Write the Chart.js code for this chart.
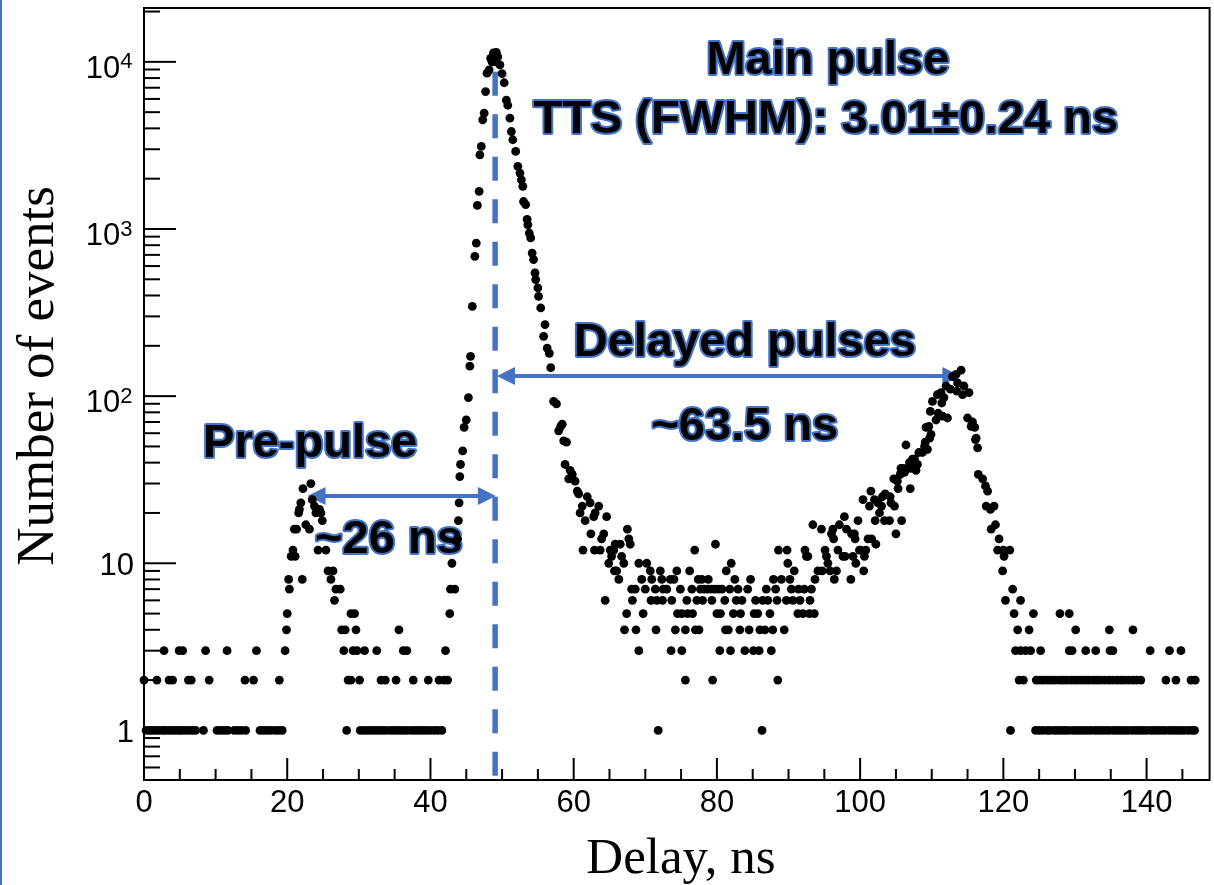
<!DOCTYPE html>
<html>
<head>
<meta charset="utf-8">
<script src="https://cdn.jsdelivr.net/npm/chart.js@4.4.1/dist/chart.umd.min.js"></script>
<style>
  html, body { margin: 0; padding: 0; background: #fff; }
  #wrap { width: 1214px; height: 885px; }
</style>
</head>
<body>
<div id="wrap"><canvas id="chart" width="1214" height="885"></canvas></div>
<script>
// delays (ns) of the bins that hold 1, 2 and 3 events
const delaysAt1 = [
  0.3, 0.8, 1.2, 1.7, 2.1, 2.6, 3.0, 3.5, 3.9, 4.4, 4.9, 5.3, 5.8, 6.3, 6.8, 7.2,
  8.3, 10.2, 10.7, 11.2, 11.7, 12.6, 13.1, 13.6, 14.2,
  16.2, 16.7, 17.2, 17.7, 18.3, 18.8, 19.3,
  28.3, 30.2, 30.7, 31.2, 31.7, 32.2, 32.7, 33.2, 33.7, 34.3, 34.8, 35.3, 35.8,
  36.3, 36.8, 37.4, 37.9, 38.4, 38.9, 39.4, 39.9, 40.5, 41.0, 41.6,
  71.8, 86.3,
  121.0, 124.5, 125.0, 125.5, 126.1, 126.5, 127.1, 127.6, 128.1, 128.6, 129.1, 129.7,
  130.2, 130.7, 131.2, 131.7, 132.2, 132.8, 133.3, 133.8, 134.3, 134.8, 135.4, 135.9,
  136.4, 136.9, 137.4, 138.0, 138.5, 139.0, 139.5, 140.0, 140.6, 141.1, 141.6, 142.1,
  142.6, 143.2, 143.7, 144.2, 144.7, 145.2, 145.8, 146.3, 146.7
];
const delaysAt2 = [
  0.0, 1.8, 3.5, 4.0, 6.2, 6.6, 9.1, 14.1, 15.3, 18.9,
  28.5, 28.9, 30.1, 33.1, 33.7, 35.2, 37.6, 39.7, 41.2, 41.9, 42.4,
  75.6, 79.4, 88.5,
  122.2, 122.8, 124.6, 125.1, 125.6, 126.2, 126.7, 127.2, 127.8, 128.3, 128.8, 129.4,
  129.9, 130.4, 131.0, 131.5, 132.0, 132.6, 133.1, 133.6, 134.2, 134.8, 135.3, 135.9,
  136.4, 136.9, 137.5, 138.1, 138.6, 139.2, 142.7, 144.1, 146.2, 146.8
];
const delaysAt3 = [
  2.8, 4.9, 5.4, 8.6, 11.6, 15.7, 19.7,
  27.9, 29.2, 29.75, 30.8, 32.5, 36.2, 36.7, 42.1,
  69.1, 73.6, 75.1, 80.4, 81.9, 83.9, 85.1, 85.9, 87.6,
  121.7, 122.4, 123.1, 123.8, 125.2, 129.2, 129.6, 131.5, 132.9, 134.9, 135.3,
  140.5, 143.2, 144.8
];

// [delay ns, events] for bins with 4 events or more
const prePulse = [
  [19.9, 4], [20.0, 5], [20.2, 8], [20.3, 7], [20.55, 11], [20.8, 12], [21.0, 16], [21.1, 11],
  [21.3, 16], [21.6, 20], [21.7, 21], [21.9, 23], [22.1, 8], [22.2, 28], [22.6, 17], [23.1, 16],
  [23.3, 30], [23.5, 24], [23.8, 22], [24.0, 20], [24.3, 12], [24.5, 21], [24.7, 20], [24.9, 18],
  [25.4, 12], [25.7, 9], [26.1, 8], [26.4, 9], [26.6, 6], [26.8, 7], [27.4, 7], [27.6, 4],
  [28.1, 4], [28.9, 5], [29.4, 5], [29.6, 4], [35.6, 4]
];
const mainPulse = [
  [42.7, 5], [42.8, 7], [43.0, 10], [43.4, 7], [43.8, 14], [43.9, 18], [44.0, 23], [44.1, 33],
  [44.2, 39], [44.5, 47], [44.7, 65], [45.0, 72], [45.3, 98], [45.5, 151], [45.6, 173],
  [45.85, 344], [46.2, 686], [46.4, 824], [46.55, 1383], [46.8, 1678], [46.9, 2780],
  [47.1, 3118], [47.3, 4500], [47.5, 4930], [47.7, 6640], [47.9, 8560], [48.2, 8960],
  [48.4, 10500], [48.6, 10000], [48.8, 11300], [49.0, 10000], [49.2, 11400], [49.4, 10700],
  [49.7, 9600], [50.0, 8500], [50.3, 7500], [50.6, 5900], [50.8, 5500], [51.1, 4600],
  [51.3, 3830], [51.5, 3420], [51.9, 2910], [52.2, 2370], [52.5, 2160], [52.7, 1970],
  [52.9, 1800], [53.0, 1460], [53.3, 1400], [53.5, 1140], [53.6, 1060], [53.8, 946],
  [54.0, 884], [54.2, 718], [54.4, 656], [54.6, 546], [54.7, 498], [55.0, 444], [55.1, 395],
  [55.4, 337], [55.8, 228], [56.0, 268], [56.3, 194], [56.6, 180], [56.8, 148], [57.2, 93],
  [57.6, 90], [57.9, 62], [58.2, 66]
];
const delayedTail = [
  [58.4, 68], [58.6, 54], [58.8, 39], [59.0, 53], [59.3, 32], [59.5, 36], [59.8, 34], [60.2, 31],
  [60.5, 27], [60.7, 26], [60.9, 20], [61.2, 22], [61.3, 12], [61.6, 18], [61.9, 25], [62.3, 23],
  [62.4, 15], [62.8, 19], [62.9, 12], [63.0, 20], [63.5, 22], [63.7, 12], [63.9, 14], [64.2, 15],
  [64.4, 6], [64.6, 19], [64.9, 10], [65.1, 12], [65.3, 11], [65.6, 12], [65.7, 9], [65.8, 13],
  [66.0, 9], [66.3, 8], [66.5, 13], [66.7, 11], [67.0, 10], [67.1, 4], [67.4, 5], [67.5, 16],
  [67.7, 14], [67.9, 13]
];
const valley = [
  [68.1, 7], [68.2, 6], [68.6, 7], [68.7, 4], [69.1, 10], [69.5, 8], [69.7, 5], [70.0, 7],
  [70.2, 10], [70.7, 9], [70.8, 6], [70.9, 8], [71.4, 7], [71.5, 4], [71.6, 6], [72.1, 9],
  [72.3, 8], [72.4, 6], [72.5, 7], [73.0, 7], [73.5, 8], [73.7, 6], [74.0, 8], [74.2, 4],
  [74.4, 9], [74.5, 5], [74.9, 7], [75.1, 5], [75.6, 4], [75.8, 6], [75.9, 5], [76.2, 9],
  [76.5, 7], [76.6, 5], [76.9, 12], [77.0, 4], [77.2, 6], [77.4, 8], [77.5, 4], [77.7, 7],
  [77.9, 8], [78.0, 6], [78.2, 7], [78.7, 7], [78.8, 8], [79.2, 7], [79.3, 6], [79.7, 7],
  [79.8, 13], [80.0, 5], [80.2, 7], [80.5, 5], [80.7, 7], [81.1, 6], [81.2, 4], [81.3, 9],
  [81.6, 4], [81.8, 7], [82.0, 10], [82.3, 5], [82.5, 8], [82.7, 6], [82.95, 7], [83.2, 4],
  [83.3, 5], [83.5, 6], [84.3, 7], [84.5, 4], [84.7, 8], [85.2, 5], [85.4, 6], [85.7, 5],
  [86.0, 4], [86.4, 6], [86.7, 4], [86.9, 7], [87.1, 6], [87.4, 5], [87.8, 4], [87.9, 8],
  [88.2, 7], [88.4, 6], [88.6, 12], [89.0, 8], [89.4, 4], [89.7, 6], [89.8, 12], [89.9, 10],
  [90.2, 8], [90.4, 7], [90.6, 6], [90.8, 9], [91.3, 5], [91.4, 7], [91.6, 6], [92.0, 5],
  [92.2, 7], [92.3, 12], [92.5, 11], [92.7, 11], [92.9, 5], [93.0, 6], [93.2, 7], [93.4, 17],
  [93.6, 5], [93.7, 8]
];
const delayedPeak = [
  [94.1, 9], [94.6, 16], [94.7, 9], [95.1, 12], [95.3, 11], [95.5, 10], [95.8, 9], [96.0, 15],
  [96.2, 16], [96.3, 14], [96.4, 8], [96.7, 9], [96.9, 12], [97.1, 17], [97.6, 11], [97.8, 19],
  [97.9, 11], [98.1, 16], [98.7, 8], [98.8, 15], [99.0, 11], [99.2, 15], [99.3, 14], [99.4, 10],
  [99.7, 18], [99.9, 12], [100.1, 12], [100.4, 24], [100.5, 9], [100.6, 11], [100.8, 12],
  [101.1, 14], [101.3, 22], [101.5, 27], [101.6, 14], [102.0, 24], [102.1, 18], [102.2, 13],
  [102.5, 23], [102.7, 20], [103.0, 22], [103.1, 25], [103.4, 18], [103.5, 26], [104.1, 18],
  [104.2, 25], [104.3, 23], [104.7, 32], [104.8, 22], [105.0, 15], [105.2, 31], [105.3, 28],
  [105.6, 34], [105.7, 37], [105.8, 18], [106.0, 37], [106.2, 35], [106.4, 51], [106.6, 37],
  [106.9, 40], [107.0, 28], [107.1, 37], [107.3, 42], [107.6, 42], [107.8, 36], [108.0, 39],
  [108.2, 46], [108.7, 46], [109.0, 50], [109.1, 53], [109.2, 65], [109.3, 48], [109.4, 48],
  [109.6, 66], [109.7, 56], [109.8, 81], [109.9, 59], [110.1, 93], [110.6, 72], [110.8, 102],
  [110.9, 79], [111.3, 105], [111.4, 91], [111.5, 76], [111.7, 98], [112.0, 115], [112.2, 74],
  [112.6, 110], [112.9, 131], [113.4, 135], [113.5, 107], [113.6, 120], [114.1, 143],
  [114.3, 102], [114.5, 115], [115.0, 74], [115.2, 105], [115.5, 66], [115.7, 70], [116.0, 65],
  [116.1, 55], [116.2, 56], [116.4, 49], [116.5, 34], [117.1, 32], [117.5, 29], [117.6, 22],
  [117.8, 27], [118.2, 21], [118.3, 16], [118.7, 22], [118.9, 17], [119.2, 12], [119.4, 14],
  [119.9, 9], [120.0, 12], [120.1, 11], [120.3, 6], [120.9, 12], [121.3, 7], [121.5, 5],
  [122.0, 4], [122.4, 6], [123.6, 4], [124.2, 5], [127.9, 5], [129.2, 5], [130.1, 4],
  [134.8, 4], [138.1, 4]
];

// axis tick values
const xTicks = [];
for (let v = 0; v <= 145; v += 5) xTicks.push(v);
const yTicks = [];
for (let e = -1; e <= 4; e++) {
  for (let m = 1; m <= 9; m++) {
    const v = m * Math.pow(10, e);
    if (v >= 0.6 && v <= 20000) yTicks.push(v);
  }
}

// annotations, in data coordinates
const tailPeak = 49.03;          // position of dashed line
const prePulseArrow = { from: 22.83, to: 49.14, level: 25.3 };
const delayedArrow = { from: 49.28, to: 114.0, level: 132 };
const labels = [
  { text: 'Main pulse', x: 95.5, y: 8450 },
  { text: 'TTS (FWHM): 3.01\u00b10.24 ns', x: 95.2, y: 3750 },
  { text: 'Delayed pulses', x: 83.9, y: 174 },
  { text: '~63.5 ns', x: 83.9, y: 54.7 },
  { text: 'Pre-pulse', x: 23.2, y: 43.3 },
  { text: '~26 ns', x: 34.2, y: 11.5 }
];

const blue = '#4472C4';
const sans = '"Liberation Sans", Arial, sans-serif';
const serif = '"Liberation Serif", "Times New Roman", serif';

const points = []
  .concat(delaysAt1.map(d => ({ x: d, y: 1 })))
  .concat(delaysAt2.map(d => ({ x: d, y: 2 })))
  .concat(delaysAt3.map(d => ({ x: d, y: 3 })))
  .concat([...prePulse, ...mainPulse, ...delayedTail, ...valley, ...delayedPeak].map(p => ({ x: p[0], y: p[1] })));

function isDecade(v) {
  const e = Math.round(Math.log10(v));
  return Math.abs(v - Math.pow(10, e)) < 1e-9 * v;
}

function arrow(ctx, x1, x2, y) {
  const head = 18, half = 9;
  ctx.beginPath();
  ctx.moveTo(x1 + head - 1, y);
  ctx.lineTo(x2 - head + 1, y);
  ctx.stroke();
  ctx.beginPath();
  ctx.moveTo(x1, y); ctx.lineTo(x1 + head, y - half); ctx.lineTo(x1 + head, y + half); ctx.closePath();
  ctx.fill();
  ctx.beginPath();
  ctx.moveTo(x2, y); ctx.lineTo(x2 - head, y - half); ctx.lineTo(x2 - head, y + half); ctx.closePath();
  ctx.fill();
}

const decorations = {
  id: 'decorations',
  beforeDraw(chart) {
    const ctx = chart.ctx;
    ctx.save();
    ctx.fillStyle = '#fff';
    ctx.fillRect(0, 0, chart.width, chart.height);
    ctx.fillStyle = blue;
    ctx.fillRect(0, 0, 2, chart.height);
    ctx.restore();
  },
  beforeDatasetsDraw(chart) {
    const { ctx, chartArea: a, scales: { x, y } } = chart;
    ctx.save();

    // ticks pointing into the frame
    ctx.strokeStyle = '#000';
    ctx.lineWidth = 2;
    x.ticks.forEach(t => {
      const px = x.getPixelForValue(t.value);
      const len = t.value % 20 === 0 ? 22 : 11;
      ctx.beginPath(); ctx.moveTo(px, a.bottom); ctx.lineTo(px, a.bottom - len); ctx.stroke();
    });
    y.ticks.forEach(t => {
      const py = y.getPixelForValue(t.value);
      const len = isDecade(t.value) ? 32 : 16;
      ctx.beginPath(); ctx.moveTo(a.left, py); ctx.lineTo(a.left + len, py); ctx.stroke();
    });
    ctx.strokeRect(a.left, a.top, a.right - a.left, a.bottom - a.top);

    // y tick labels with superscript exponents
    ctx.fillStyle = '#000';
    ctx.textAlign = 'right';
    ctx.textBaseline = 'alphabetic';
    y.ticks.forEach(t => {
      if (!isDecade(t.value)) return;
      const e = Math.round(Math.log10(t.value));
      const py = y.getPixelForValue(t.value);
      if (e <= 1) {
        ctx.font = '31px ' + sans;
        ctx.fillText(String(Math.round(t.value)), 134, py + 11.5);
      } else {
        ctx.font = '22px ' + sans;
        const w = ctx.measureText(String(e)).width;
        ctx.fillText(String(e), 132.5, py + 6.6);
        ctx.font = '31px ' + sans;
        ctx.fillText('10', 132.5 - w, py + 15.8);
      }
    });

    // axis titles
    ctx.font = '51px ' + serif;
    ctx.textAlign = 'center';
    ctx.fillText('Delay, ns', 681, 873);
    ctx.save();
    ctx.translate(53, 376);
    ctx.rotate(-Math.PI / 2);
    ctx.font = '53px ' + serif;
    ctx.fillText('Number of events', 0, 0);
    ctx.restore();

    // dashed line through the main pulse
    ctx.strokeStyle = blue;
    ctx.fillStyle = blue;
    ctx.lineWidth = 5.5;
    ctx.setLineDash([24, 18.5]);
    const dx = x.getPixelForValue(tailPeak);
    ctx.beginPath();
    ctx.moveTo(dx, y.getPixelForValue(8730));
    ctx.lineTo(dx, y.getPixelForValue(0.53));
    ctx.stroke();
    ctx.setLineDash([]);

    // arrows
    ctx.lineWidth = 4;
    arrow(ctx, x.getPixelForValue(prePulseArrow.from), x.getPixelForValue(prePulseArrow.to), y.getPixelForValue(prePulseArrow.level));
    arrow(ctx, x.getPixelForValue(delayedArrow.from), x.getPixelForValue(delayedArrow.to), y.getPixelForValue(delayedArrow.level));

    // outlined labels
    ctx.font = 'bold 47px ' + sans;
    ctx.textAlign = 'center';
    ctx.lineJoin = 'round';
    labels.forEach(l => {
      const px = x.getPixelForValue(l.x), py = y.getPixelForValue(l.y);
      ctx.lineWidth = 4;
      ctx.strokeStyle = blue;
      ctx.strokeText(l.text, px, py);
      ctx.fillStyle = '#000';
      ctx.fillText(l.text, px, py);
    });
    ctx.restore();
  }
};

new Chart(document.getElementById('chart'), {
  type: 'scatter',
  data: {
    datasets: [{
      data: points,
      backgroundColor: '#000',
      borderWidth: 0,
      pointRadius: 4.4,
      pointHoverRadius: 4.4,
      clip: false
    }]
  },
  options: {
    responsive: false,
    animation: false,
    devicePixelRatio: 1,
    layout: { padding: { top: 8, right: 1, left: 0, bottom: 0 } },
    plugins: { legend: { display: false }, tooltip: { enabled: false } },
    scales: {
      x: {
        type: 'linear',
        min: 0,
        max: 148.8,
        grid: { display: false },
        border: { display: false },
        afterBuildTicks: scale => { scale.ticks = xTicks.map(v => ({ value: v })); },
        afterFit: scale => { scale.height = 105; },
        ticks: {
          autoSkip: false,
          maxRotation: 0,
          padding: -3,
          color: '#000',
          font: { family: sans, size: 31 },
          callback: v => (v % 20 === 0 ? String(v) : '')
        }
      },
      y: {
        type: 'logarithmic',
        min: 0.505,
        max: 21000,
        grid: { display: false },
        border: { display: false },
        afterBuildTicks: scale => { scale.ticks = yTicks.map(v => ({ value: v })); },
        afterFit: scale => { scale.width = 144; },
        ticks: { display: false }
      }
    }
  },
  plugins: [decorations]
});
</script>
</body>
</html>
